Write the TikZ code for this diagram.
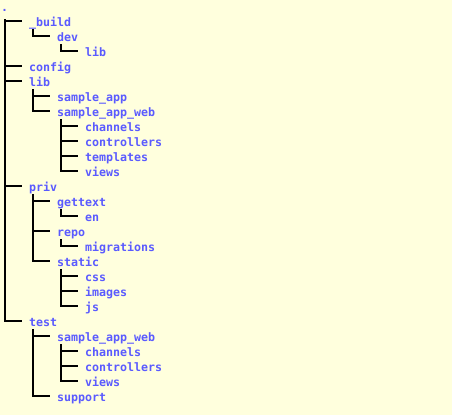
\documentclass[tikz,border=0pt]{standalone}
\usepackage{fontspec}
\setmonofont{DejaVu Sans Mono}
\definecolor{dirblue}{RGB}{90,90,255}
\definecolor{paper}{RGB}{255,255,221}
\tikzset{
  dir/.style={anchor=base west, inner sep=0pt, text=dirblue,
    font=\fontsize{11.63}{14}\selectfont\ttfamily\bfseries},
  branch/.style={line width=2pt, draw=black},
}
% tree link: vertical from below the parent, then across to the child
\newcommand{\treelink}[3][-3pt]{%
  \draw[branch] ([xshift=3.5pt,yshift=#1]#2.base west) |- ([xshift=-7pt,yshift=5pt]#3.base west);}
\begin{document}
\begin{tikzpicture}[x=1pt,y=-1pt]
  \fill[paper] (0,0) rectangle (452,415);
  \useasboundingbox (0,0) rectangle (452,415);

  \node[dir] (root)        at (1,11)   {.};
  \node[dir] (build)       at (29,26)  {\_build};
  \node[dir] (builddev)    at (57,41)  {dev};
  \node[dir] (builddevlib) at (85,56)  {lib};
  \node[dir] (config)      at (29,71)  {config};
  \node[dir] (lib)         at (29,86)  {lib};
  \node[dir] (libapp)      at (57,101) {sample\_app};
  \node[dir] (libweb)      at (57,116) {sample\_app\_web};
  \node[dir] (libchan)     at (85,131) {channels};
  \node[dir] (libctrl)     at (85,146) {controllers};
  \node[dir] (libtmpl)     at (85,161) {templates};
  \node[dir] (libviews)    at (85,176) {views};
  \node[dir] (priv)        at (29,191) {priv};
  \node[dir] (gettext)     at (57,206) {gettext};
  \node[dir] (en)          at (85,221) {en};
  \node[dir] (repo)        at (57,236) {repo};
  \node[dir] (migr)        at (85,251) {migrations};
  \node[dir] (static)      at (57,266) {static};
  \node[dir] (css)         at (85,281) {css};
  \node[dir] (images)      at (85,296) {images};
  \node[dir] (js)          at (85,311) {js};
  \node[dir] (test)        at (29,326) {test};
  \node[dir] (testweb)     at (57,341) {sample\_app\_web};
  \node[dir] (testchan)    at (85,356) {channels};
  \node[dir] (testctrl)    at (85,371) {controllers};
  \node[dir] (testviews)   at (85,386) {views};
  \node[dir] (support)     at (57,401) {support};

  % top level
  \foreach \c in {build,config,lib,priv,test} {\treelink[-8pt]{root}{\c}}
  % _build
  \treelink{build}{builddev}
  \treelink{builddev}{builddevlib}
  % lib
  \foreach \c in {libapp,libweb} {\treelink{lib}{\c}}
  \foreach \c in {libchan,libctrl,libtmpl,libviews} {\treelink{libweb}{\c}}
  % priv
  \foreach \c in {gettext,repo,static} {\treelink{priv}{\c}}
  \treelink{gettext}{en}
  \treelink{repo}{migr}
  \foreach \c in {css,images,js} {\treelink{static}{\c}}
  % test
  \foreach \c in {testweb,support} {\treelink{test}{\c}}
  \foreach \c in {testchan,testctrl,testviews} {\treelink{testweb}{\c}}
\end{tikzpicture}
\end{document}
